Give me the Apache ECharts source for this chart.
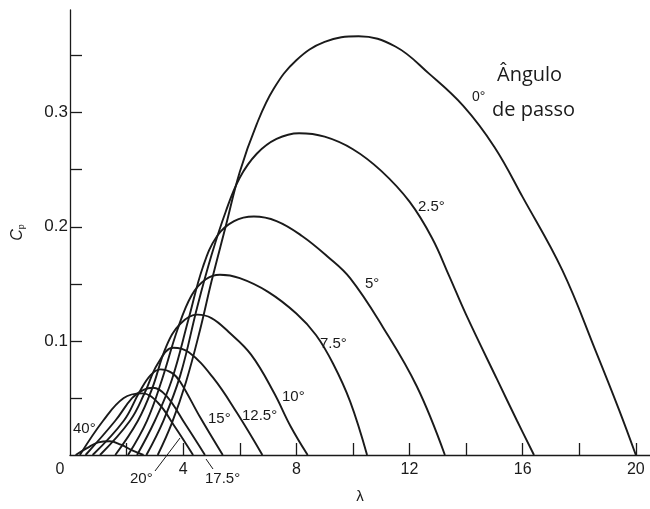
<!DOCTYPE html>
<html><head><meta charset="utf-8">
<script src="https://cdn.jsdelivr.net/npm/echarts@6/dist/echarts.min.js"></script>
<style>html,body{margin:0;padding:0;background:#fff}#c{width:650px;height:509px}</style>
</head><body><div id="c"></div>
<script>
// Tick values
const xTickValues = [2, 4, 6, 8, 10, 12, 14, 16, 18, 20];
const xLabelValues = [0, 4, 8, 12, 16, 20];
const yTickValues = [0.05, 0.1, 0.15, 0.2, 0.25, 0.3, 0.35];
const yLabelValues = [0.1, 0.2, 0.3];

// Pitch angle names
const pitchNames = ['0°', '2.5°', '5°', '7.5°', '10°', '12.5°', '15°', '17.5°', '20°', '40°'];

// Curves: [lambda, Cp]
const cp0 = [[3.1,0],[3.6,0.028],[4.1,0.064],[4.6,0.11],[5.0,0.152],[5.5,0.2],[6.0,0.248],[6.6,0.29],[7.2,0.321],[8.0,0.346],[9.0,0.362],[10.2,0.367],[11.5,0.358],[12.7,0.334],[13.9,0.306],[15.0,0.27],[16.0,0.226],[17.4,0.162],[18.6,0.09],[19.4,0.04],[20,0]];
const cp2_5 = [[2.7,0],[3.3,0.03],[3.9,0.07],[4.5,0.13],[5.0,0.175],[5.5,0.213],[6.0,0.243],[6.6,0.264],[7.3,0.277],[8.1,0.282],[9.0,0.279],[10.0,0.268],[11.0,0.249],[12.0,0.222],[12.8,0.19],[13.4,0.157],[14.0,0.123],[15.1,0.066],[15.8,0.03],[16.4,0]];
const cp5 = [[2.37,0],[3.0,0.03],[3.6,0.066],[4.2,0.12],[4.7,0.165],[5.2,0.192],[5.8,0.205],[6.5,0.209],[7.3,0.205],[8.2,0.192],[9.1,0.174],[9.9,0.155],[11.06,0.112],[12.26,0.06],[13.25,0]];
const cp7_5 = [[2.05,0],[2.72,0.03],[3.25,0.066],[3.8,0.11],[4.3,0.14],[4.8,0.154],[5.3,0.158],[6.0,0.155],[7.0,0.143],[8.0,0.124],[8.7,0.105],[9.3,0.08],[9.9,0.047],[10.5,0]];
const cp10 = [[1.6,0],[2.4,0.03],[2.9,0.058],[3.4,0.095],[3.9,0.115],[4.5,0.123],[5.0,0.12],[5.6,0.108],[6.4,0.088],[7.2,0.055],[7.8,0.025],[8.4,0]];
const cp12_5 = [[1.06,0],[2.12,0.03],[2.65,0.055],[3.1,0.08],[3.65,0.094],[4.2,0.09],[5.05,0.068],[5.9,0.037],[6.8,0]];
const cp15 = [[0.8,0],[1.9,0.03],[2.45,0.055],[2.85,0.07],[3.2,0.075],[3.6,0.072],[3.9,0.064],[4.6,0.033],[5.4,0]];
const cp17_5 = [[0.55,0],[1.6,0.03],[2.2,0.05],[2.6,0.057],[2.93,0.059],[3.4,0.052],[4.1,0.026],[4.77,0]];
const cp20 = [[0.35,0],[1.17,0.03],[1.9,0.05],[2.55,0.054],[3.1,0.046],[3.7,0.025],[4.35,0]];
const cp40 = [[0.2,0],[0.6,0.006],[1.0,0.011],[1.4,0.012],[1.8,0.009],[2.2,0.004],[2.6,0]];

const curves = [cp0, cp2_5, cp5, cp7_5, cp10, cp12_5, cp15, cp17_5, cp20, cp40];

const chart = echarts.init(document.getElementById('c'), null, {renderer: 'canvas'});
const ink = '#1a1a1a';
const font = 'Liberation Sans, Arial, Helvetica, sans-serif';

function txt(text, left, cy, size, fam) {
  return {type: 'text', left: left, top: cy - size * 0.6,
    style: {text: text, fill: ink, font: size + 'px ' + (fam || font)}};
}

const option = {
  animation: false,
  backgroundColor: '#fff',
  grid: {left: 70, top: 10, right: 0, bottom: 54, containLabel: false, outerBoundsMode: 'none'},
  xAxis: {
    type: 'value', min: 0, max: 20.5,
    name: 'λ', nameLocation: 'middle', nameGap: 34,
    nameTextStyle: {color: ink, fontSize: 15, fontFamily: font},
    axisLine: {show: true, lineStyle: {color: ink, width: 1.3}},
    axisTick: {show: true, inside: true, length: 12, customValues: xTickValues, lineStyle: {color: ink, width: 1.3}},
    axisLabel: {color: ink, fontSize: 16, fontFamily: font, margin: 7, customValues: xLabelValues,
      formatter: v => v === 0 ? '{z|0}' : String(v),
      rich: {z: {fontSize: 16, fontFamily: font, color: ink, padding: [0, 20, 0, 0]}}},
    splitLine: {show: false}
  },
  yAxis: {
    type: 'value', min: 0, max: 0.39,
    name: '{c|C}{p|p}', nameLocation: 'middle', nameGap: 44,
    nameTextStyle: {rich: {
      c: {fontSize: 16, fontStyle: 'italic', fontFamily: font, color: ink},
      p: {fontSize: 9, fontFamily: font, color: ink, verticalAlign: 'bottom', padding: [6, 0, 0, 0]}
    }},
    axisLine: {show: true, lineStyle: {color: ink, width: 1.3}},
    axisTick: {show: true, inside: true, length: 12, customValues: yTickValues, lineStyle: {color: ink, width: 1.3}},
    axisLabel: {color: ink, fontSize: 17, fontFamily: font, margin: 2, customValues: yLabelValues,
      formatter: v => v.toFixed(1)},
    splitLine: {show: false}
  },
  series: curves.map((d, i) => ({
    type: 'line', name: pitchNames[i], data: d,
    showSymbol: false, smooth: 0.4,
    lineStyle: {color: ink, width: 1.9}, silent: true
  })),
  graphic: [
    txt('0°', 472, 99, 14),
    txt('Ângulo', 497, 77, 20, 'Open Sans, sans-serif'),
    txt('de passo', 492, 112, 20, 'Open Sans, sans-serif'),
    txt('2.5°', 418, 208, 15),
    txt('5°', 365, 285, 15),
    txt('7.5°', 320, 345, 15),
    txt('10°', 282, 398, 15),
    txt('12.5°', 242, 417, 15),
    txt('15°', 208, 420, 15),
    txt('40°', 73, 430, 15),
    txt('20°', 130, 480, 15),
    txt('17.5°', 205, 480, 15),
    {type: 'line', shape: {x1: 155, y1: 471, x2: 180, y2: 438}, style: {stroke: ink, lineWidth: 1}},
    {type: 'line', shape: {x1: 206, y1: 459, x2: 213, y2: 469}, style: {stroke: ink, lineWidth: 1}}
  ]
};
chart.setOption(option);
</script>
</body></html>
